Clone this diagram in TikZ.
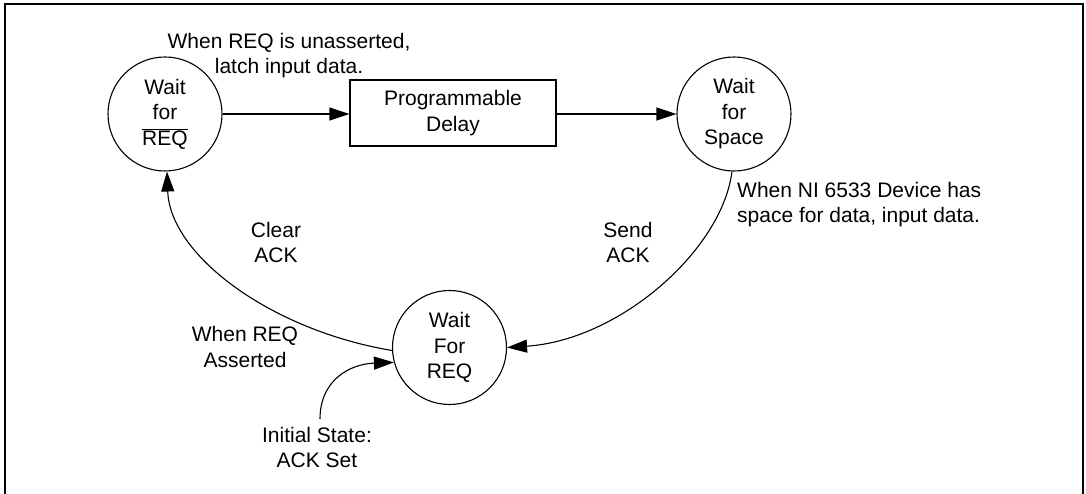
\documentclass[tikz,border=0pt]{standalone}
\usepackage{fontspec}
\setmainfont{Liberation Sans}
\usetikzlibrary{arrows.meta}
\newcommand{\dgfont}{\fontsize{21}{25.5}\selectfont}
\begin{document}
\begin{tikzpicture}[x=1pt,y=-1pt,
  state/.style={circle,draw,line width=1.1pt,minimum size=114pt,inner sep=0pt,align=center,font=\dgfont},
  delaybox/.style={rectangle,draw,line width=1.1pt,minimum width=206pt,minimum height=66pt,inner sep=0pt,align=center,font=\dgfont},
  lbl/.style={inner sep=0pt,align=center,font=\dgfont},
  arr/.style={line width=1.1pt,-{Triangle[length=20pt,width=13pt]}},
  frame/.style={line width=2.5pt}
]
\useasboundingbox (0,0) rectangle (1086,494);
% frame
\draw[frame] (5,494) -- (5,4) -- (1083,4) -- (1083,494);

% states
\node[state] (w1) at (165,114) {Wait\\for\\$\overline{\mbox{REQ}}$};
\node[delaybox] (delay) at (453,113) {Programmable\\Delay};
\node[state] (w2) at (734,114) {Wait\\for\\Space};
\node[state] (w3) at (449.5,347.5) {Wait\\For\\REQ};

% labels
\node[lbl] (ltop) at (289,55.5) {When REQ is unasserted,\\latch input data.};
\node[lbl,anchor=west,align=left] (lni) at (737,204.5) {When NI 6533 Device has\\space for data, input data.};
\node[lbl] (lclear) at (276,242.5) {Clear\\ACK};
\node[lbl] (lsend) at (628,242.5) {Send\\ACK};
\node[lbl] (lreq) at (245,347) {When REQ\\Asserted};
\node[lbl] (linit) at (317,447.5) {Initial State:\\ACK Set};
\coordinate (istart) at (320,419);

% connectors
\draw[arr] (w1.east) -- (w1.east -| delay.west);
\draw[arr] (delay.east |- w2.west) -- (w2.west);
\draw[arr] (w3.183) .. controls (270,330) and (170,255) .. (w1.-88);
\draw[arr] (w2.-92) .. controls (722,250) and (620,340) .. (w3.east);
\draw[arr] (istart) .. controls (320,380) and (350,364) .. (w3.195);
\end{tikzpicture}
\end{document}
